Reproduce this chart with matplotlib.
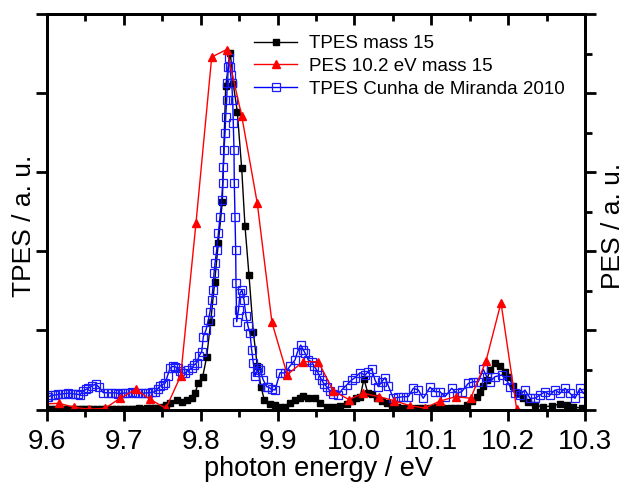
import matplotlib
matplotlib.use("Agg")
import matplotlib.pyplot as plt
from matplotlib.ticker import MultipleLocator, NullFormatter

plt.rcParams['font.family'] = ['Liberation Sans', 'DejaVu Sans']

# ---------------- data ----------------
tpes_E = [9.600, 9.605, 9.610, 9.615, 9.620, 9.625, 9.630, 9.635, 9.640, 9.645,
          9.650, 9.655, 9.660, 9.665, 9.670, 9.675, 9.680, 9.685, 9.690, 9.695,
          9.700, 9.705, 9.710, 9.715, 9.720, 9.725, 9.730, 9.735, 9.740, 9.745,
          9.7513, 9.7548, 9.7600, 9.7688, 9.7753, 9.7818, 9.7883, 9.7926, 9.7969, 9.8026,
          9.8078, 9.8130, 9.8182, 9.8229, 9.8281, 9.8325, 9.8385, 9.8424, 9.8476, 9.8533,
          9.8576, 9.8628, 9.8684, 9.8736, 9.8785, 9.8827, 9.8901, 9.8967, 9.9032, 9.9097,
          9.9162, 9.9227, 9.9292, 9.9335, 9.9400, 9.9487, 9.9553, 9.9640, 9.9725, 9.9812,
          9.9900, 9.9965, 10.0020, 10.0073, 10.0124, 10.0173, 10.0225, 10.0290, 10.0355, 10.0420,
          10.0485, 10.0550, 10.0636, 10.0723, 10.0814, 10.0892, 10.0983, 10.1070, 10.1152, 10.1243,
          10.1308, 10.1373, 10.1461, 10.1526, 10.1591, 10.1634, 10.1677, 10.1721, 10.1764, 10.1829,
          10.1894, 10.1959, 10.2002, 10.2067, 10.2132, 10.2197, 10.2262, 10.2349, 10.2457, 10.2567,
          10.2675, 10.2762, 10.2848, 10.2957]
tpes_I = [0.010, 0.012, 0.010, 0.008, 0.010, 0.012, 0.010, 0.010, 0.012, 0.010,
          0.008, 0.010, 0.012, 0.010, 0.010, 0.012, 0.010, 0.008, 0.010, 0.012,
          0.010, 0.012, 0.010, 0.012, 0.014, 0.012, 0.014, 0.016, 0.018, 0.020,
          0.028, 0.057, 0.078, 0.120, 0.099, 0.120, 0.142, 0.205, 0.339, 0.415,
          0.668, 1.110, 1.616, 2.109, 2.627, 4.090, 4.513, 4.111, 3.765, 3.049,
          2.320, 1.700, 0.984, 0.550, 0.288, 0.120, 0.073, 0.057, 0.035, 0.035,
          0.078, 0.120, 0.142, 0.174, 0.142, 0.142, 0.078, 0.035, 0.035, 0.044,
          0.070, 0.111, 0.142, 0.154, 0.386, 0.212, 0.196, 0.142, 0.111, 0.078,
          0.057, 0.035, 0.015, 0.019, 0.015, 0.019, 0.019, 0.035, 0.025, 0.019,
          0.015, 0.015, 0.057, 0.111, 0.162, 0.225, 0.297, 0.373, 0.499, 0.592,
          0.550, 0.478, 0.415, 0.297, 0.205, 0.142, 0.099, 0.057, 0.035, 0.044,
          0.070, 0.057, 0.035, 0.015]

pes_E = [9.5948, 9.6156, 9.6355, 9.6550, 9.6755, 9.6950, 9.7154, 9.7340, 9.7548, 9.7740,
         9.7939, 9.8143, 9.8338, 9.8533, 9.8736, 9.8927, 9.9126, 9.9331, 9.9530, 9.9725,
         9.9929, 10.0115, 10.0320, 10.0519, 10.0723, 10.0918, 10.1113, 10.1318, 10.1513, 10.1712,
         10.1907, 10.2111]
pes_I = [0.070, 0.078, 0.028, 0.003, 0.015, 0.142, 0.255, 0.129, 0.015, 0.427,
         2.362, 4.456, 4.551, 3.714, 2.607, 1.100, 0.440, 0.604, 0.604, 0.234,
         0.126, 0.205, 0.162, 0.111, 0.048, 0.019, 0.107, 0.162, 0.142, 0.613,
         1.350, 0.003]

lit_E = [9.6000, 9.6017, 9.6059, 9.6104, 9.6147, 9.6191, 9.6234, 9.6277, 9.6321, 9.6364,
         9.6407, 9.6429, 9.6472, 9.6507, 9.6537, 9.6582, 9.6634, 9.6677, 9.6733, 9.6798,
         9.6842, 9.6885, 9.6928, 9.6972, 9.7015, 9.7058, 9.7102, 9.7145, 9.7188, 9.7232,
         9.7275, 9.7318, 9.7362, 9.7405, 9.7438, 9.7470, 9.7503, 9.7535, 9.7568, 9.7600,
         9.7633, 9.7665, 9.7698, 9.7730, 9.7763, 9.7796, 9.7839, 9.7883, 9.7913, 9.7948,
         9.7978, 9.8013, 9.8034, 9.8069, 9.8099, 9.8121, 9.8143, 9.8156, 9.8173, 9.8186,
         9.8208, 9.8229, 9.8251, 9.8273, 9.8286, 9.8294, 9.8303, 9.8316, 9.8325, 9.8338,
         9.8346, 9.8359, 9.8368, 9.8381, 9.8390, 9.8403, 9.8416, 9.8424, 9.8433, 9.8437,
         9.8446, 9.8455, 9.8459, 9.8468, 9.8492, 9.8511, 9.8537, 9.8563, 9.8589, 9.8615,
         9.8641, 9.8663, 9.8684, 9.8706, 9.8728, 9.8749, 9.8771, 9.8814, 9.8859, 9.8879,
         9.8924, 9.8967, 9.9032, 9.9097, 9.9162, 9.9227, 9.9259, 9.9301, 9.9335, 9.9357,
         9.9400, 9.9444, 9.9474, 9.9509, 9.9539, 9.9574, 9.9604, 9.9640, 9.9682, 9.9725,
         9.9790, 9.9834, 9.9899, 9.9965, 10.0007, 10.0073, 10.0138, 10.0181, 10.0225, 10.0268,
         10.0311, 10.0355, 10.0398, 10.0441, 10.0506, 10.0571, 10.0636, 10.0701, 10.0766, 10.0831,
         10.0896, 10.0983, 10.1048, 10.1113, 10.1178, 10.1266, 10.1331, 10.1396, 10.1482, 10.1547,
         10.1612, 10.1677, 10.1721, 10.1764, 10.1829, 10.1916, 10.1981, 10.2024, 10.2089, 10.2154,
         10.2219, 10.2284, 10.2349, 10.2414, 10.2480, 10.2545, 10.2610, 10.2675, 10.2740, 10.2805,
         10.2870, 10.2935, 10.2978]
lit_I = [0.158, 0.162, 0.177, 0.183, 0.190, 0.196, 0.202, 0.205, 0.202, 0.196,
         0.190, 0.183, 0.238, 0.253, 0.268, 0.297, 0.322, 0.281, 0.212, 0.212,
         0.209, 0.212, 0.202, 0.205, 0.209, 0.205, 0.215, 0.212, 0.209, 0.205,
         0.209, 0.212, 0.215, 0.225, 0.259, 0.297, 0.316, 0.331, 0.424, 0.521,
         0.544, 0.541, 0.525, 0.491, 0.461, 0.458, 0.499, 0.521, 0.563, 0.592,
         0.676, 0.731, 0.920, 1.005, 1.131, 1.236, 1.384, 1.511, 1.722, 1.848,
         2.016, 2.228, 2.437, 2.649, 2.860, 3.070, 3.281, 3.492, 3.702, 3.913,
         4.124, 4.334, 4.444, 4.334, 4.229, 4.124, 3.913, 3.618, 3.281, 2.860,
         2.437, 2.016, 1.595, 1.110, 1.258, 1.473, 1.511, 1.384, 1.182, 1.056,
         0.967, 0.752, 0.588, 0.424, 0.474, 0.525, 0.499, 0.373, 0.288, 0.284,
         0.255, 0.247, 0.465, 0.461, 0.550, 0.626, 0.727, 0.815, 0.752, 0.714,
         0.626, 0.604, 0.550, 0.499, 0.436, 0.373, 0.322, 0.288, 0.234, 0.196,
         0.183, 0.247, 0.310, 0.373, 0.402, 0.465, 0.436, 0.478, 0.508, 0.373,
         0.288, 0.351, 0.402, 0.297, 0.142, 0.154, 0.162, 0.162, 0.268, 0.247,
         0.142, 0.281, 0.225, 0.225, 0.162, 0.268, 0.205, 0.225, 0.331, 0.351,
         0.351, 0.508, 0.415, 0.351, 0.415, 0.436, 0.373, 0.288, 0.205, 0.183,
         0.247, 0.142, 0.142, 0.183, 0.225, 0.183, 0.247, 0.205, 0.268, 0.205,
         0.142, 0.268, 0.205]

labels = ["TPES mass 15", "PES 10.2 eV mass 15", "TPES Cunha de Miranda 2010"]
x_ticks = [9.6, 9.7, 9.8, 9.9, 10.0, 10.1, 10.2, 10.3]
x_ticklabels = ["9.6", "9.7", "9.8", "9.9", "10.0", "10.1", "10.2", "10.3"]

# ---------------- figure ----------------
fig = plt.figure(figsize=(6.26, 4.91), dpi=100)
ax = fig.add_axes([47/626, 1-409.5/491, 538/626, 395.5/491])
ax2 = ax.twinx()

l1, = ax.plot(tpes_E, tpes_I, color='black', lw=1.0, marker='s', ms=4.3,
              mfc='black', mec='black', label=labels[0])
l3, = ax.plot(lit_E, lit_I, color='#0000ff', lw=1.0, marker='s', ms=5.2,
              mfc='none', mec='#1a1aff', mew=0.9, label=labels[2])
l2, = ax2.plot(pes_E, pes_I, color='#ff0000', lw=1.0, marker='^', ms=6,
               mfc='#ff0000', mec='#ff0000', label=labels[1])

ax.set_xlim(9.6, 10.3)
ax.set_ylim(0, 5)
ax2.set_ylim(0, 5)

ax.set_xticks(x_ticks)
ax.set_xticklabels(x_ticklabels)
ax.xaxis.set_minor_locator(MultipleLocator(0.05))
ax.yaxis.set_major_locator(MultipleLocator(1))
ax.yaxis.set_major_formatter(NullFormatter())
ax2.yaxis.set_major_locator(MultipleLocator(1))
ax2.yaxis.set_minor_locator(MultipleLocator(0.5))
ax2.yaxis.set_major_formatter(NullFormatter())

for a in (ax, ax2):
    for s in a.spines.values():
        s.set_linewidth(2.0)

ax.tick_params(axis='x', which='major', direction='out', length=8, width=2,
               labelsize=20, pad=6, top=False)
ax.tick_params(axis='x', which='minor', direction='out', length=5, width=2, top=False)
ax.tick_params(axis='y', which='major', direction='out', length=8, width=2, right=False)
ax2.tick_params(axis='y', which='major', direction='out', length=8, width=2)
ax2.tick_params(axis='y', which='minor', direction='out', length=5, width=2)

top = ax.secondary_xaxis('top')
top.set_xticks(x_ticks)
top.xaxis.set_minor_locator(MultipleLocator(0.05))
top.xaxis.set_major_formatter(NullFormatter())
top.tick_params(axis='x', which='major', direction='in', length=8, width=2)
top.tick_params(axis='x', which='minor', direction='in', length=5, width=2)
top.spines['top'].set_linewidth(2.0)

ax.set_xlabel("photon energy / eV", fontsize=19.5)
ax.xaxis.set_label_coords(0.504, -0.117)
ax.set_ylabel("TPES / a. u.", fontsize=19)
ax.yaxis.set_label_coords(-0.02, 0.464)
ax2.set_ylabel("PES / a. u.", fontsize=19, rotation=90)
ax2.yaxis.set_label_coords(1.03, 0.464)

leg = ax2.legend([l1, l2, l3], labels, loc='upper left',
                 bbox_to_anchor=(0.385, 0.947), frameon=False, fontsize=13.5,
                 handlelength=2.3, handletextpad=0.6, labelspacing=0.3,
                 borderpad=0, borderaxespad=0)

fig.savefig("out.png", dpi=100)
